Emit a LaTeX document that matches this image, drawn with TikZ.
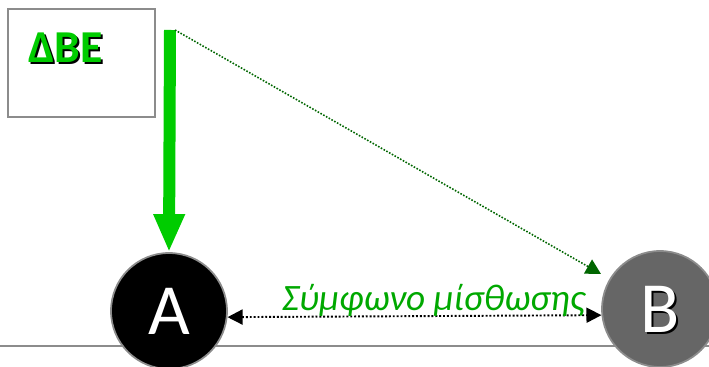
\documentclass[tikz,border=0pt]{standalone}
\usepackage{fontspec}
\setmainfont{Carlito}
\usepackage{xcolor}
\usetikzlibrary{arrows.meta}
\definecolor{lsgreen}{HTML}{00CC00}
\definecolor{lslabel}{HTML}{00A800}
\definecolor{lsdark}{HTML}{006600}
\tikzset{
  lsframe/.style={draw=black!45, line width=1.2pt, fill=white, minimum width=2.94cm, minimum height=2.16cm, inner sep=0pt},
  lsflow/.style={line width=0.24cm, draw=lsgreen, -{Triangle[width=0.58cm,length=0.76cm]}},
  lshint/.style={line width=0.9pt, draw=lsdark, dash pattern=on 0.9pt off 0.9pt, -{Triangle[width=0.32cm,length=0.3cm]}},
  lsdeal/.style={line width=1.1pt, draw=black, dash pattern=on 1.1pt off 1.1pt, {Triangle[width=0.3cm,length=0.3cm]}-{Triangle[width=0.3cm,length=0.3cm]}},
  lsground/.style={line width=1.2pt, draw=black!45},
  lsparty/.style={circle, draw=black!45, line width=1pt, minimum size=2.32cm, inner sep=0pt},
  lsletter/.style={font=\fontsize{41}{41}\selectfont, inner sep=0pt},
  lstitle/.style={font=\fontsize{26}{26}\selectfont\bfseries, inner sep=0pt, anchor=base west},
}

\begin{document}
\begin{tikzpicture}[x=0.02cm, y=-0.02cm]
\useasboundingbox (0,0) rectangle (709,367);
\draw[lsground] (0,346) -- (709,346);
\node[lsframe] (frame) at (81.5,63) {};
\node[lstitle, text=black] (dbeshadow) at (30,65) {ΔΒΕ};
\node[lstitle, text=lsgreen] (dbe) at (28,63) {ΔΒΕ};
\node[lsparty, fill=black] (a) at (169,311) {};
\node[lsparty, fill=black!60] (b) at (660,309) {};
\node[lsletter, text=white] (aletter) at (a) {A};
\node[lsletter, text=black] (bshadow) at ([xshift=0.05cm,yshift=-0.05cm]b) {B};
\node[lsletter, text=white] (bletter) at (b) {B};
\coordinate (src) at (170,30);
\coordinate (hint) at (175,30);
\coordinate (hintend) at (601,274);
\draw[lsflow] (src) -- (a.north);
\draw[lshint] (hint) -- (hintend);
\draw[lsdeal] (a.-6) -- (b.186);
\node[text=lslabel, font=\fontsize{21.2}{21.2}\selectfont\itshape, anchor=base] (deal) at (433.5,311) {Σύμφωνο μίσθωσης};
\end{tikzpicture}
\end{document}
